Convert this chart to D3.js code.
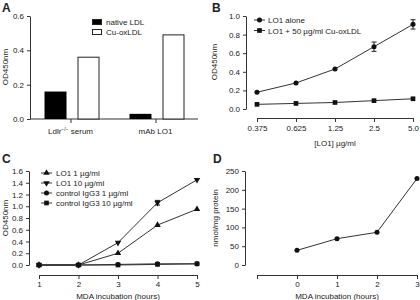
<!DOCTYPE html>
<html>
<head>
<meta charset="utf-8">
<script src="https://cdn.jsdelivr.net/npm/d3@7"></script>
<style>
  body { margin: 0; background: #fff; }
  text { font-family: "Liberation Sans", Arial, sans-serif; fill: #222; }
  .axis text { font-size: 8px; }
  .axis path, .axis line { stroke: #333; }
</style>
</head>
<body>
<div id="wrapper"></div>
<script>
// Panel A data
const aGroups = ["Ldlr", "mAb LO1"];
const aSeries = ["native LDL", "Cu-oxLDL"];
const aNative = [0.16, 0.03];
const aOx = [0.36, 0.49];

// Panel B data
const bDoses = ["0.375", "0.625", "1.25", "2.5", "5.0"];
const bAlone = [0.18, 0.28, 0.43, 0.67, 0.91];
const bAloneErr = [0, 0, 0, 0.05, 0.05];
const bWithOx = [0.05, 0.06, 0.07, 0.09, 0.11];

// Panel C data
const cHours = [1, 2, 3, 4, 5];
const cLO1_1 = [0, 0, 0.2, 0.68, 0.95];
const cLO1_10 = [0, 0, 0.38, 1.06, 1.45];
const cLO1_10Err = [0, 0, 0, 0.04, 0];
const cIgG_1 = [0, 0, 0.01, 0.02, 0.02];
const cIgG_10 = [0, 0, 0, 0.01, 0.02];
const cNames = ["LO1 1 µg/ml", "LO1 10 µg/ml", "control IgG3 1 µg/ml", "control IgG3 10 µg/ml"];

// Panel D data
const dHours = [0, 1, 2, 3];
const dValues = [39, 70, 87, 230];

const svg = d3.select("#wrapper").append("svg")
  .attr("width", 420).attr("height", 300);

function panelLetter(t, x, y) {
  svg.append("text").attr("x", x).attr("y", y).text(t)
    .style("font-size", "12px").style("font-weight", "bold");
}
function yLabel(t, x, y) {
  svg.append("text").attr("transform", `translate(${x},${y}) rotate(-90)`)
    .attr("text-anchor", "middle").style("font-size", "8px").text(t);
}
function xLabel(t, x, y) {
  svg.append("text").attr("x", x).attr("y", y)
    .attr("text-anchor", "middle").style("font-size", "8px").text(t);
}
function marker(g, shape, x, y) {
  const size = shape === "circle" ? 20 : shape === "square" ? 22 : 18;
  const type = shape === "circle" ? d3.symbolCircle : shape === "square" ? d3.symbolSquare : d3.symbolTriangle;
  g.append("path")
    .attr("d", d3.symbol(type, size)())
    .attr("fill", "#111")
    .attr("transform", `translate(${x},${y})` + (shape === "down" ? " rotate(180)" : ""));
}
function lineSeries(g, xs, ys, xScale, yScale, shape, errs) {
  const line = d3.line().x((d, i) => xScale(xs[i])).y(d => yScale(d));
  g.append("path").attr("d", line(ys)).attr("fill", "none")
    .attr("stroke", "#333").attr("stroke-width", 1);
  ys.forEach((v, i) => {
    if (errs && errs[i] > 0) {
      const x = xScale(xs[i]);
      const y1 = yScale(v + errs[i]), y2 = yScale(v - errs[i]);
      g.append("path").attr("d", `M${x},${y1}V${y2}M${x - 2.5},${y1}H${x + 2.5}M${x - 2.5},${y2}H${x + 2.5}`)
        .attr("stroke", "#222").attr("fill", "none");
    }
    marker(g, shape, xScale(xs[i]), yScale(v));
  });
}

// ---------- Panel A ----------
panelLetter("A", 2, 12);
const aY = d3.scaleLinear().domain([0, 0.6]).range([119, 16]);
const aX = d3.scaleBand().domain(aGroups).range([28, 198]).paddingInner(0).paddingOuter(0);
svg.append("g").attr("class", "axis").attr("transform", "translate(30,0)")
  .call(d3.axisLeft(aY).tickValues([0, 0.2, 0.4, 0.6]).tickFormat(d3.format(".1f")).tickSize(3).tickSizeOuter(0));
svg.append("line").attr("x1", 30).attr("x2", 198).attr("y1", 119).attr("y2", 119).attr("stroke", "#333");
const bw = 22;
aGroups.forEach((g, i) => {
  const cx = aX(g) + aX.bandwidth() / 2;
  svg.append("rect").attr("x", cx - 26).attr("width", bw)
    .attr("y", aY(aNative[i])).attr("height", aY(0) - aY(aNative[i])).attr("fill", "#000");
  svg.append("rect").attr("x", cx + 7.5).attr("width", bw - 1)
    .attr("y", aY(aOx[i])).attr("height", aY(0) - aY(aOx[i]))
    .attr("fill", "#fff").attr("stroke", "#222");
  svg.append("line").attr("x1", cx + 0.5).attr("x2", cx + 0.5).attr("y1", 119).attr("y2", 123).attr("stroke", "#333");
});
const aLab0 = svg.append("text").attr("x", aX(aGroups[0]) + aX.bandwidth() / 2).attr("y", 134)
  .attr("text-anchor", "middle").style("font-size", "8px");
aLab0.append("tspan").text("Ldlr");
aLab0.append("tspan").attr("dy", -3).style("font-size", "5px").text("−/−");
aLab0.append("tspan").attr("dy", 3).text(" serum");
svg.append("text").attr("x", aX(aGroups[1]) + aX.bandwidth() / 2).attr("y", 134)
  .attr("text-anchor", "middle").style("font-size", "8px").text(aGroups[1]);
yLabel("OD450nm", 8, 67);
aSeries.forEach((s, i) => {
  const y = 22 + i * 10;
  svg.append("rect").attr("x", 92.5).attr("y", y - 2.5).attr("width", 9).attr("height", 5)
    .attr("fill", i === 0 ? "#000" : "#fff").attr("stroke", "#222");
  svg.append("text").attr("x", 106).attr("y", y + 3).style("font-size", "8px").text(s);
});

// ---------- Panel B ----------
panelLetter("B", 212, 12);
const bY = d3.scaleLinear().domain([0, 1]).range([109, 16]);
const bX = d3.scalePoint().domain(bDoses).range([257, 413]);
svg.append("g").attr("class", "axis").attr("transform", "translate(246,0)")
  .call(d3.axisLeft(bY).ticks(5).tickFormat(d3.format(".1f")).tickSize(3).tickSizeOuter(0));
svg.append("g").attr("class", "axis").attr("transform", "translate(0,118)")
  .call(d3.axisBottom(bX).tickSize(4).tickPadding(3).tickSizeOuter(0));
yLabel("OD450nm", 217, 62);
xLabel("[LO1] µg/ml", 335, 146);
const bG = svg.append("g");
lineSeries(bG, bDoses, bWithOx, bX, bY, "square");
lineSeries(bG, bDoses, bAlone, bX, bY, "circle", bAloneErr);
[["LO1 alone", "circle"], ["LO1 + 50 µg/ml Cu-oxLDL", "square"]].forEach((d, i) => {
  const y = 20 + i * 10.5;
  bG.append("line").attr("x1", 254).attr("x2", 265).attr("y1", y).attr("y2", y).attr("stroke", "#333");
  marker(bG, d[1], 259.5, y);
  bG.append("text").attr("x", 268).attr("y", y + 3).style("font-size", "8px").text(d[0]);
});

// ---------- Panel C ----------
panelLetter("C", 2, 163);
const cY = d3.scaleLinear().domain([0, 1.6]).range([265, 171]);
const cX = d3.scaleLinear().domain([1, 5]).range([39, 197]);
svg.append("g").attr("class", "axis").attr("transform", "translate(29,0)")
  .call(d3.axisLeft(cY).tickValues(d3.range(0, 1.61, 0.2)).tickFormat(d3.format(".1f")).tickSize(3).tickSizeOuter(0));
svg.append("g").attr("class", "axis").attr("transform", "translate(0,275)")
  .call(d3.axisBottom(cX).ticks(5).tickFormat(d3.format("d")).tickSize(4).tickPadding(2).tickSizeOuter(0));
yLabel("OD450nm", 8, 218);
xLabel("MDA incubation (hours)", 118, 299);
const cG = svg.append("g");
const cSets = [[cLO1_1, "up"], [cLO1_10, "down", cLO1_10Err], [cIgG_1, "circle"], [cIgG_10, "square"]];
cSets.forEach(s => lineSeries(cG, cHours, s[0], cX, cY, s[1], s[2]));
cNames.forEach((n, i) => {
  const y = 173 + i * 10;
  cG.append("line").attr("x1", 41).attr("x2", 52).attr("y1", y).attr("y2", y).attr("stroke", "#333");
  marker(cG, cSets[i][1], 46.5, y);
  cG.append("text").attr("x", 56).attr("y", y + 3).style("font-size", "8px").text(n);
});

// ---------- Panel D ----------
panelLetter("D", 213, 163);
const dY = d3.scaleLinear().domain([0, 250]).range([265, 171]);
const dX = d3.scaleLinear().domain([-1, 3]).range([257, 417]);
svg.append("g").attr("class", "axis").attr("transform", "translate(245,0)")
  .call(d3.axisLeft(dY).ticks(5).tickSize(3).tickSizeOuter(0));
svg.append("g").attr("class", "axis").attr("transform", "translate(0,275)")
  .call(d3.axisBottom(dX).tickValues([-1, 0, 1, 2, 3]).tickFormat(d => d < 0 ? "" : d).tickSize(4).tickPadding(2).tickSizeOuter(0));
yLabel("nmol/mg protein", 218, 218);
xLabel("MDA incubation (hours)", 337, 299);
lineSeries(svg.append("g"), dHours, dValues, dX, dY, "circle");
</script>
</body>
</html>
